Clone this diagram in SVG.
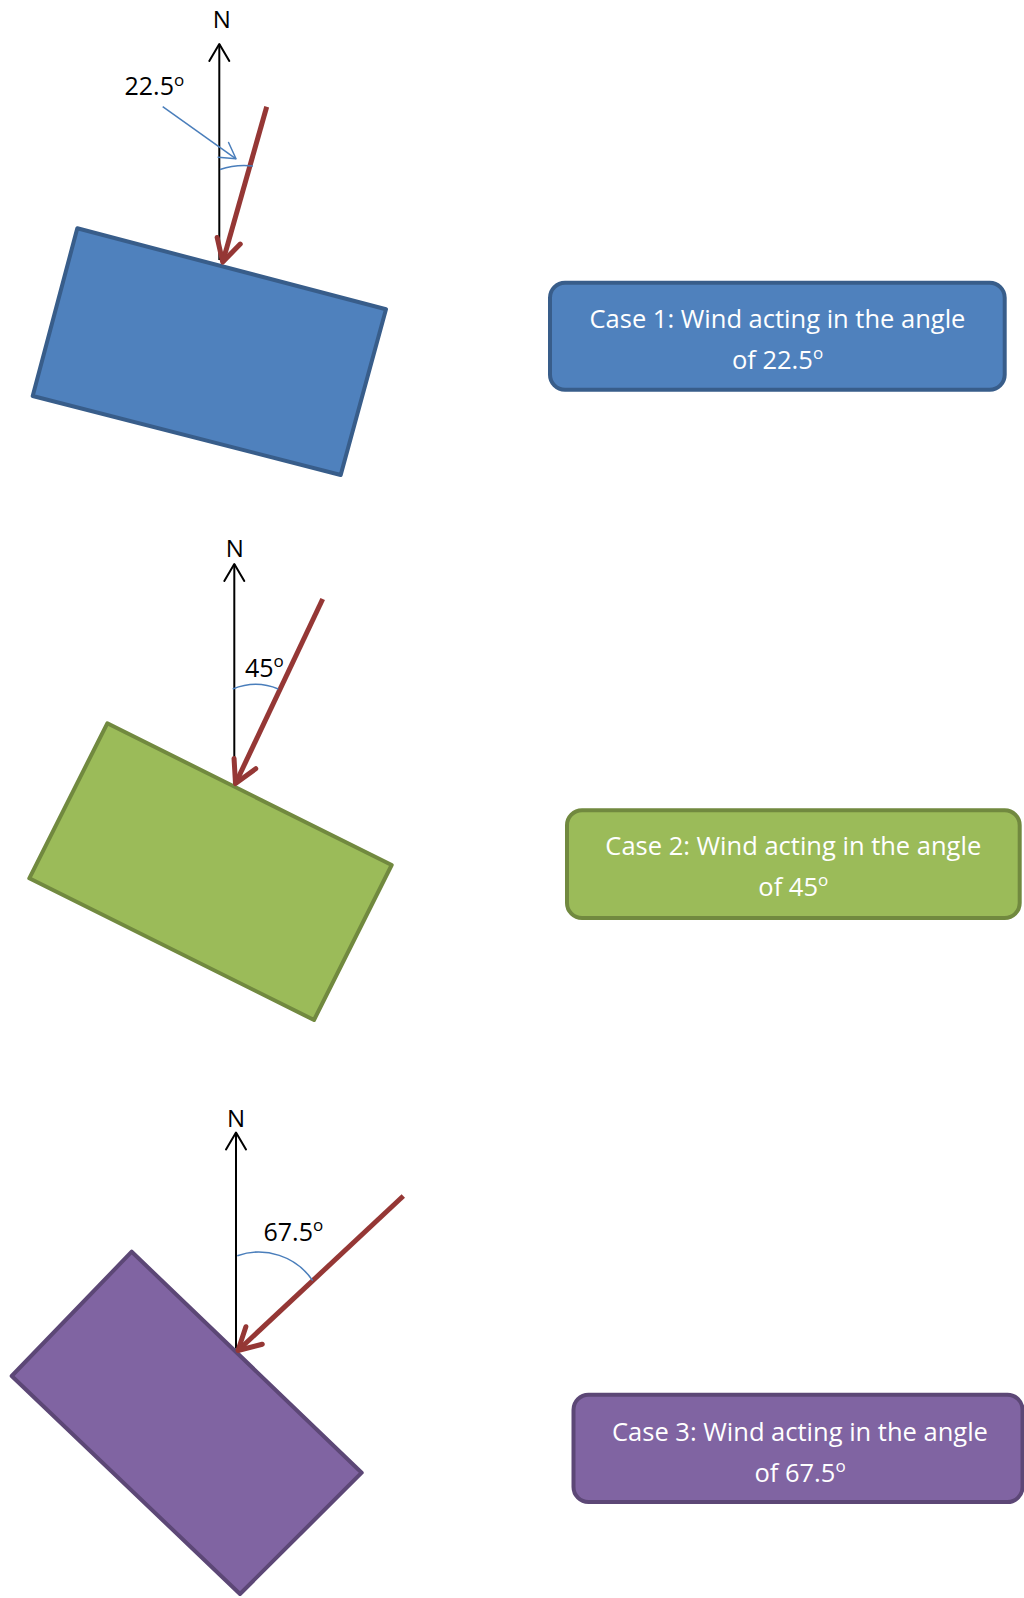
<svg xmlns="http://www.w3.org/2000/svg" width="1024" height="1598" viewBox="0 0 1024 1598">
<style>
text{font-family:"Open Sans","Noto Sans",sans-serif;}
.lbl{font-size:25px;fill:#000;}
.nl{font-size:24px;fill:#000;text-anchor:middle;}
.sup{font-size:17px;}
.box{font-size:25.5px;fill:#fff;text-anchor:middle;}
.north{stroke:#000;stroke-width:2;fill:none;marker-end:url(#ahK);}
.wind{stroke:#953735;stroke-width:5;fill:none;marker-end:url(#ahR);}
.arc{stroke:#4a7ebb;stroke-width:1.5;fill:none;}
.ptr{stroke:#4a7ebb;stroke-width:1.5;fill:none;marker-end:url(#ahB);}
.c1{fill:#4f81bd;stroke:#385d8a;stroke-width:4;stroke-linejoin:round;}
.c2{fill:#9bbb59;stroke:#71893f;stroke-width:4;stroke-linejoin:round;}
.c3{fill:#8064a2;stroke:#5c4776;stroke-width:4;stroke-linejoin:round;}
</style>
<defs>
<marker id="ahK" markerUnits="userSpaceOnUse" orient="auto" markerWidth="1" markerHeight="1" style="overflow:visible">
<path d="M-17,-10 L0,0 L-17,10" fill="none" stroke="#000" stroke-width="2" stroke-linecap="round" stroke-linejoin="round"/>
</marker>
<marker id="ahR" markerUnits="userSpaceOnUse" orient="auto" markerWidth="1" markerHeight="1" style="overflow:visible">
<path d="M-22,-12 L0,0 L-22,12" fill="none" stroke="#953735" stroke-width="5" stroke-linecap="round" stroke-linejoin="round"/>
</marker>
<marker id="ahB" markerUnits="userSpaceOnUse" orient="auto" markerWidth="1" markerHeight="1" style="overflow:visible">
<path d="M-15.5,-9 L0,0 L-15.5,9" fill="none" stroke="#4a7ebb" stroke-width="1.5" stroke-linecap="round" stroke-linejoin="round"/>
</marker>
</defs>

<g id="building1">
<polygon class="c1" points="77.3,228.3 386,309.3 340.7,475 32.7,396"/>
</g>
<g id="building2">
<polygon class="c2" points="107.3,723.3 391.7,865 314,1020 29.3,878.3"/>
</g>
<g id="building3">
<polygon class="c3" points="131.7,1251.7 361.7,1472.7 240,1594 11.7,1376"/>
</g>

<g id="connectors">
<line class="north" x1="219.3" y1="260" x2="219.3" y2="44"/>
<line class="wind" x1="266.7" y1="106.7" x2="222.7" y2="262"/>
<path class="arc" d="M220,169.5 Q236,164 253,166"/>
<line class="ptr" x1="162.7" y1="106.7" x2="236" y2="158.8"/>

<line class="north" x1="234.3" y1="783" x2="234.3" y2="564"/>
<line class="wind" x1="322.7" y1="599" x2="235.5" y2="783.5"/>
<path class="arc" d="M232.7,689 Q256,679.6 278.3,689"/>

<line class="north" x1="236" y1="1348.5" x2="236" y2="1132.5"/>
<line class="wind" x1="403.3" y1="1196" x2="238" y2="1350.5"/>
<path class="arc" d="M237.3,1255.7 A65,65 0 0 1 312.7,1280.7"/>
</g>

<g id="labels">
<text class="nl" x="221.7" y="28.3">N</text>
<text class="nl" x="234.8" y="556.7">N</text>
<text class="nl" x="236" y="1127.3">N</text>
<text class="lbl" x="124.5" y="95">22.5<tspan class="sup" dy="-9.5">o</tspan></text>
<text class="lbl" x="245" y="676.7">45<tspan class="sup" dy="-9.5">o</tspan></text>
<text class="lbl" x="263.5" y="1240.7">67.5<tspan class="sup" dy="-9.5">o</tspan></text>
</g>

<g id="case1">
<rect class="c1" x="550" y="282.7" width="454.7" height="107" rx="15"/>
<text class="box" x="777.5" y="328">Case 1: Wind acting in the angle</text>
<text class="box" x="777.5" y="369">of 22.5<tspan class="sup" dy="-10">o</tspan></text>
</g>
<g id="case2">
<rect class="c2" x="567" y="810.3" width="452.7" height="107.7" rx="15"/>
<text class="box" x="793.3" y="854.7">Case 2: Wind acting in the angle</text>
<text class="box" x="793.3" y="895.7">of 45<tspan class="sup" dy="-10">o</tspan></text>
</g>
<g id="case3">
<rect class="c3" x="573.5" y="1394.7" width="449" height="107.3" rx="15"/>
<text class="box" x="800" y="1440.5">Case 3: Wind acting in the angle</text>
<text class="box" x="800" y="1481.5">of 67.5<tspan class="sup" dy="-10">o</tspan></text>
</g>
</svg>
